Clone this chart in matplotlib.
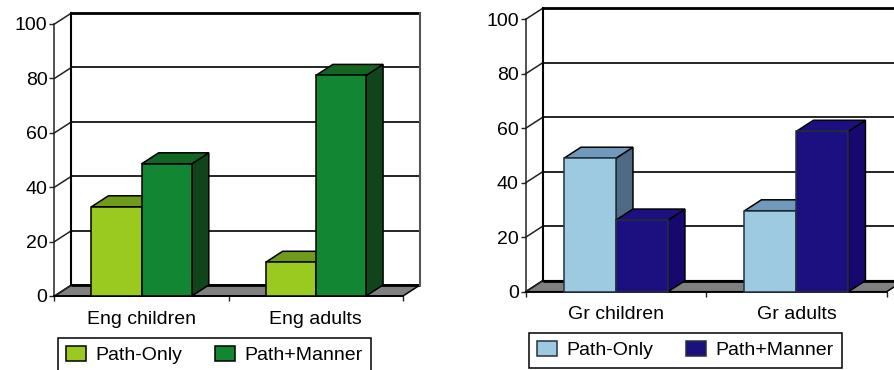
import matplotlib
matplotlib.use("Agg")
import matplotlib.pyplot as plt
from matplotlib.patches import Polygon, Patch

plt.rcParams['font.family'] = ['Liberation Sans', 'DejaVu Sans']

W, H = 895, 370

series = ["Path-Only", "Path+Manner"]
yticks = [0, 20, 40, 60, 80, 100]

eng_groups = ["Eng children", "Eng adults"]
eng_only = [32.8, 12.4]
eng_manner = [48.6, 81.1]

gr_groups = ["Gr children", "Gr adults"]
gr_only = [49.0, 29.7]
gr_manner = [58.9 - 32.6, 58.9]

#colours are front, top, side
eng_cols = [("#9aca20", "#6f9a1a", "#6f9a1a"), ("#128633", "#136524", "#10441a")]
gr_cols = [("#9ecae1", "#7099bb", "#4f6a85"), ("#1c0f7f", "#1c0f7f", "#17086f")]

BW = 0.288   #bar width in category units
DPX, DPY = 17, 11   #depth of the box in pixels


def px_box(x0, x1, ytop, ybot):
    return [x0 / W, 1 - ybot / H, (x1 - x0) / W, (ybot - ytop) / H]


def draw_chart(fig, box, groups, vals, cols, edge, leg_box):
    ax = fig.add_axes(box)
    ax.set_xlim(0, 2)
    ax.set_ylim(0, 100)
    ax.patch.set_visible(False)
    for s in ax.spines.values():
        s.set_visible(False)

    ax_w = box[2] * W
    ax_h = box[3] * H
    dx = DPX / ax_w * 2
    dy = DPY / ax_h * 100

    #floor
    ax.add_patch(Polygon([(0, 0), (dx, dy), (2 + dx, dy), (2, 0)], fc="#808080",
                         ec="black", lw=1.1, clip_on=False, zorder=1))

    #back wall and left wall
    for y in yticks:
        lw = 2 if y in (0, 100) else 1.2
        ax.plot([dx, 2 + dx], [y + dy, y + dy], color="black", lw=lw, clip_on=False,
                solid_capstyle="butt", zorder=1.5)
        ax.plot([0, dx], [y, y + dy], color="#222222", lw=1.1, clip_on=False, zorder=1.5)
    ax.plot([dx, dx], [dy, 100 + dy], color="black", lw=1.5, clip_on=False, zorder=1.5)
    ax.plot([2 + dx, 2 + dx], [dy, 100 + dy], color="#555555", lw=1.5, clip_on=False, zorder=1.5)
    ax.plot([0, 0], [0, 100], color="#222222", lw=1.1, clip_on=False, zorder=1.5)
    ax.plot([0, 2], [0, 0], color="black", lw=1.3, clip_on=False, zorder=1.6)

    #bars, one series at a time so the later ones sit in front
    pos = [0.5, 1.5]
    handles = []
    for i, name in enumerate(series):
        front, top, side = cols[i]
        off = -BW if i == 0 else 0
        for p, v in zip(pos, vals[i]):
            x0, x1 = p + off, p + off + BW
            ax.add_patch(Polygon([(x1, 0), (x1 + dx, dy), (x1 + dx, v + dy), (x1, v)],
                                 fc=side, ec="black", lw=1.1, clip_on=False, zorder=2 + i))
            ax.add_patch(Polygon([(x0, v), (x0 + dx, v + dy), (x1 + dx, v + dy), (x1, v)],
                                 fc=top, ec="black", lw=1.1, clip_on=False, zorder=2 + i))
        ax.bar([p + off for p in pos], vals[i], BW, align="edge", color=front, edgecolor=edge,
               lw=1.1, clip_on=False, zorder=2 + i)
        handles.append(Patch(fc=front, ec=edge, lw=1.1, label=name))

    ax.set_xticks([0, 1, 2])
    ax.set_xticklabels([])
    ax.set_xticks(pos, minor=True)
    ax.set_xticklabels(groups, minor=True, fontsize=14)
    ax.set_yticks(yticks)
    ax.tick_params(axis="x", which="major", length=3.5, width=1, color="#222222")
    ax.tick_params(axis="x", which="minor", length=0, pad=10.5)
    ax.tick_params(axis="y", length=3.5, width=1, color="#222222", labelsize=14, pad=1.5)

    leg = fig.legend(handles=handles, loc="lower left", ncols=2, fontsize=14, frameon=True,
                     fancybox=False, edgecolor="black", framealpha=1, borderaxespad=0,
                     bbox_to_anchor=(leg_box[0] / W, 1 - leg_box[1] / H), handlelength=1.0,
                     handleheight=0.8, handletextpad=0.5, columnspacing=1.7, borderpad=0.42)
    leg.get_frame().set_linewidth(1.1)
    return ax


fig = plt.figure(figsize=(W / 100, H / 100), dpi=100)
draw_chart(fig, px_box(54.5, 403, 24, 296), eng_groups, [eng_only, eng_manner], eng_cols,
           "black", (58, 372.5))
draw_chart(fig, px_box(525.7, 886.7, 19.3, 291.7), gr_groups, [gr_only, gr_manner], gr_cols,
           "#23323f", (529, 367.5))
fig.savefig("out.png", dpi=100)
